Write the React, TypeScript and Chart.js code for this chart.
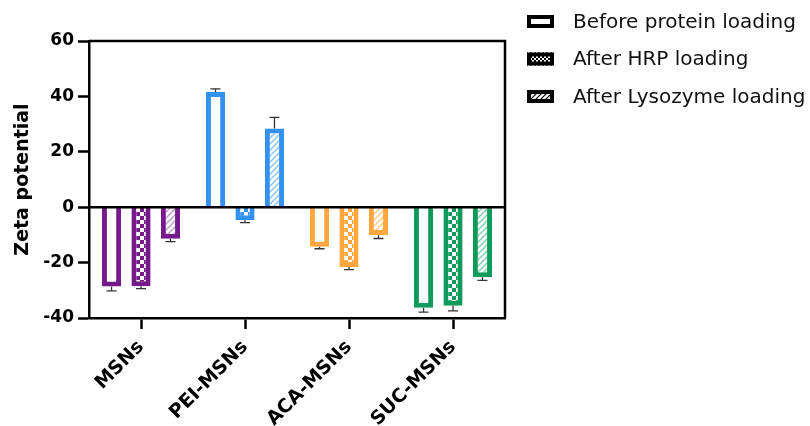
import React, { useEffect, useRef } from "react";
import { Chart, registerables } from "chart.js";

Chart.register(...registerables);

const CATEGORIES = ["MSNs", "PEI-MSNs", "ACA-MSNs", "SUC-MSNs"];
const SERIES = ["Before protein loading", "After HRP loading", "After Lysozyme loading"];
const BEFORE = [-28.6, 41.6, -14.3, -36.3];
const HRP = [-28.5, -4.7, -21.6, -35.6];
const LYSO = [-11.4, 28.4, -10.0, -25.3];
const BEFORE_ERR = [1.6, 1.1, 0.7, 1.6];
const HRP_ERR = [0.9, 0.9, 0.9, 1.8];
const LYSO_ERR = [1.0, 4.0, 1.3, 1.1];
const Y_TICKS = [-40, -20, 0, 20, 40, 60];
const COLORS = ["#76198B", "#3392F0", "#FFA63F", "#0E9A5A"];
const LIGHT = ["#C09CCF", "#94C4F6", "#FFCB8E", "#86CFAE"];

const FONT = "'DejaVu Sans', 'Liberation Sans', Arial, sans-serif";

function makeChecker(color: string, cell: number) {
  const c = document.createElement("canvas");
  c.width = cell * 2;
  c.height = cell * 2;
  const g = c.getContext("2d")!;
  g.fillStyle = color;
  g.fillRect(0, 0, cell * 2, cell * 2);
  g.fillStyle = "#ffffff";
  g.fillRect(0, 0, cell, cell);
  g.fillRect(cell, cell, cell, cell);
  return g.createPattern(c, "repeat")!;
}

function makeHatch(color: string, size: number, lw: number) {
  const c = document.createElement("canvas");
  c.width = size;
  c.height = size;
  const g = c.getContext("2d")!;
  g.fillStyle = "#ffffff";
  g.fillRect(0, 0, size, size);
  g.strokeStyle = color;
  g.lineWidth = lw;
  g.beginPath();
  g.moveTo(-1, size + 1);
  g.lineTo(size + 1, -1);
  g.moveTo(-size / 2 - 1, size / 2 + 1);
  g.lineTo(size / 2 + 1, -size / 2 - 1);
  g.moveTo(size / 2 - 1, size * 1.5 + 1);
  g.lineTo(size * 1.5 + 1, size / 2 - 1);
  g.stroke();
  return g.createPattern(c, "repeat")!;
}

const errorBarPlugin = {
  id: "errorBars",
  afterDatasetsDraw(chart: any) {
    const ctx = chart.ctx;
    const yScale = chart.scales.y;
    chart.data.datasets.forEach((ds: any, di: number) => {
      const meta = chart.getDatasetMeta(di);
      meta.data.forEach((el: any, i: number) => {
        const v = ds.data[i];
        const e = ds.errors[i];
        const end = yScale.getPixelForValue(v + (v >= 0 ? e : -e));
        const start = yScale.getPixelForValue(v);
        ctx.save();
        ctx.strokeStyle = "#333333";
        ctx.lineWidth = 1.3;
        ctx.beginPath();
        ctx.moveTo(el.x, start);
        ctx.lineTo(el.x, end);
        ctx.moveTo(el.x - 5, end);
        ctx.lineTo(el.x + 5, end);
        ctx.stroke();
        ctx.restore();
      });
    });
  },
};

const framePlugin = {
  id: "frame",
  afterDatasetsDraw(chart: any) {
    const { ctx, chartArea } = chart;
    const y0 = chart.scales.y.getPixelForValue(0);
    ctx.save();
    ctx.strokeStyle = "#000";
    ctx.lineWidth = 2.5;
    ctx.beginPath();
    ctx.moveTo(chartArea.left, chartArea.top);
    ctx.lineTo(chartArea.right, chartArea.top);
    ctx.lineTo(chartArea.right, chartArea.bottom);
    ctx.moveTo(chartArea.left, y0);
    ctx.lineTo(chartArea.right, y0);
    ctx.stroke();
    ctx.restore();
  },
};

function makeLegendPlugin(fills: any[]) {
  return {
    id: "customLegend",
    afterDraw(chart: any) {
      const ctx = chart.ctx;
      const x0 = 527;
      const ys = [21.5, 59, 96.5];
      ctx.save();
      SERIES.forEach((label, i) => {
        const y = ys[i];
        const w = 27;
        const h = 13;
        ctx.fillStyle = fills[i];
        ctx.fillRect(x0, y - h / 2, w, h);
        ctx.strokeStyle = "#000";
        ctx.lineWidth = 4;
        ctx.strokeRect(x0 + 2, y - h / 2 + 2, w - 4, h - 4);
        ctx.fillStyle = "#111";
        ctx.font = `20px ${FONT}`;
        ctx.textBaseline = "middle";
        ctx.textAlign = "left";
        ctx.fillText(label, 573, y + 1);
      });
      ctx.restore();
    },
  };
}

export default function App() {
  const ref = useRef<HTMLCanvasElement>(null);
  useEffect(() => {
    const canvas = ref.current!;
    const checkers = COLORS.map((c) => makeChecker(c, 4));
    const hatches = LIGHT.map((c) => makeHatch(c, 6, 1.5));
    const legendFills = ["#ffffff", makeChecker("#000000", 2), makeHatch("#000000", 5, 1.2)];
    const chart = new Chart(canvas, {
      type: "bar",
      data: {
        labels: CATEGORIES,
        datasets: [
          {
            label: SERIES[0],
            data: BEFORE,
            errors: BEFORE_ERR,
            backgroundColor: "#ffffff",
            borderColor: COLORS,
            borderWidth: 5,
          } as any,
          {
            label: SERIES[1],
            data: HRP,
            errors: HRP_ERR,
            backgroundColor: checkers,
            borderColor: COLORS,
            borderWidth: 5,
          } as any,
          {
            label: SERIES[2],
            data: LYSO,
            errors: LYSO_ERR,
            backgroundColor: hatches,
            borderColor: COLORS,
            borderWidth: 5,
          } as any,
        ],
      },
      options: {
        responsive: false,
        animation: false,
        categoryPercentage: 0.85,
        barPercentage: 0.65,
        layout: { padding: { top: 41, right: 305, left: 0, bottom: 0 } },
        plugins: {
          legend: { display: false },
          tooltip: { enabled: false },
        },
        scales: {
          x: {
            afterFit: (s: any) => {
              s.height = 108;
            },
            border: { display: true, color: "#000", width: 2.5 },
            grid: {
              offset: false,
              drawOnChartArea: false,
              drawTicks: true,
              tickLength: 11,
              tickWidth: 2.5,
              tickColor: "#000",
            },
            ticks: {
              minRotation: 45,
              maxRotation: 45,
              color: "#000",
              padding: 7,
              font: { family: FONT, size: 19, weight: "bold" },
            },
          },
          y: {
            min: -40,
            max: 60,
            afterFit: (s: any) => {
              s.width = 89;
            },
            afterBuildTicks: (s: any) => {
              s.ticks = Y_TICKS.map((v) => ({ value: v }));
            },
            border: { display: true, color: "#000", width: 2.5 },
            grid: {
              drawOnChartArea: false,
              drawTicks: true,
              tickLength: 11,
              tickWidth: 2.5,
              tickColor: "#000",
            },
            ticks: {
              color: "#000",
              padding: 4,
              font: { family: FONT, size: 17, weight: "bold" },
            },
            title: {
              display: true,
              text: "Zeta potential",
              color: "#000",
              padding: { top: 12, bottom: 0 },
              font: { family: FONT, size: 19, weight: "bold" },
            },
          },
        },
      } as any,
      plugins: [errorBarPlugin, framePlugin, makeLegendPlugin(legendFills)],
    });
    return () => chart.destroy();
  }, []);
  return (
    <div style={{ position: "absolute", left: 0, top: 0, width: 810, height: 426, background: "#fff" }}>
      <canvas ref={ref} width={810} height={426} style={{ display: "block" }} />
    </div>
  );
}
